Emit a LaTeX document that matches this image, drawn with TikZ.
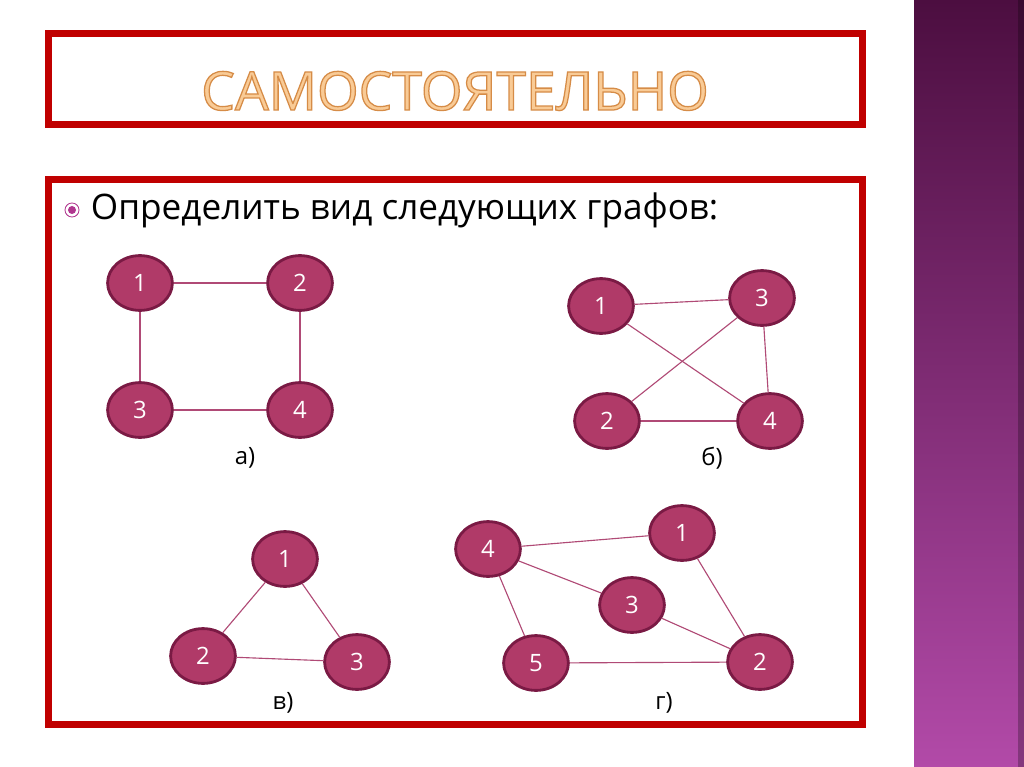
\documentclass[tikz,border=0pt]{standalone}
\usepackage{fontspec}
\setmainfont{Open Sans}
\usepackage{tikz}
\usetikzlibrary{positioning,shapes}
\usepackage{xcolor}
\definecolor{framered}{HTML}{C00000}
\definecolor{vfill}{HTML}{B03A68}
\definecolor{vline}{HTML}{7A1A44}
\definecolor{eline}{HTML}{B04A76}
\definecolor{stripetop}{HTML}{4C0E40}
\definecolor{stripebot}{HTML}{B24AA8}
\definecolor{titlefill}{HTML}{F9CB96}
\definecolor{bulletc}{HTML}{B0368E}
\newcommand{\outlined}[1]{\special{pdf:literal direct 2 Tr 0.9 w 0.84 0.55 0.28 RG}#1\special{pdf:literal direct 0 Tr}}
\tikzset{
	vert/.style={ellipse, draw=vline, fill=vfill, line width=2pt, minimum width=1.62cm, minimum height=1.37cm, inner sep=0pt, text=white, font=\fontsize{17}{20}\selectfont},
	edge/.style={draw=eline, line width=0.8pt},
	gcaption/.style={font=\fontsize{17}{20}\selectfont},
	redframe/.style={draw=framered, line width=5pt}
}
\begin{document}
\begin{tikzpicture}[x=0.025cm, y=-0.025cm]
		\useasboundingbox (0,0) rectangle (1024,767);
		\fill[white] (0,0) rectangle (1024,767);
		% purple stripe on the right
		\shade[top color=stripetop, bottom color=stripebot] (914,0) rectangle (1024,767);
		\fill[black, opacity=0.25] (1018,0) rectangle (1024,767);
		% frames
		\draw[redframe] (48.5,33.5) rectangle (862.5,124.5);
		\draw[redframe] (48.5,179.5) rectangle (862.5,724.5);
		\node[text=titlefill, font=\fontsize{38}{44}\selectfont] (Title) at (455,91) {\outlined{САМОСТОЯТЕЛЬНО}};
		% bullet
		\draw[bulletc, line width=0.6pt] (72,210) circle (7);
		\fill[bulletc] (72,210) circle (4);
		\node[anchor=west, font=\fontsize{25}{30}\selectfont] (Task) at (86,210) {Определить вид следующих графов:};
		% graph a
		\node[vert] (A1) at (140,283) {1};
		\node[vert] (A2) at (300,283) {2};
		\node[vert] (A3) at (140,410) {3};
		\node[vert] (A4) at (300,410) {4};
		\node[gcaption] (La) at (245,458) {а)};
		% graph b
		\node[vert] (B1) at (601,306) {1};
		\node[vert] (B3) at (762,298) {3};
		\node[vert] (B2) at (607,421) {2};
		\node[vert] (B4) at (770,421) {4};
		\node[gcaption] (Lb) at (712,458) {б)};
		% graph v
		\node[vert] (V1) at (285,559) {1};
		\node[vert] (V2) at (203,656) {2};
		\node[vert] (V3) at (357,662) {3};
		\node[gcaption] (Lv) at (283,703) {в)};
		% graph g
		\node[vert] (G4) at (488,549) {4};
		\node[vert] (G1) at (682,533) {1};
		\node[vert] (G3) at (632,605) {3};
		\node[vert] (G5) at (536,663) {5};
		\node[vert] (G2) at (760,662) {2};
		\node[gcaption] (Lg) at (664,703) {г)};
		\foreach \a/\b in {A1/A2,A1/A3,A2/A4,A3/A4,B1/B3,B1/B4,B2/B3,B2/B4,B3/B4,V1/V2,V1/V3,V2/V3,G4/G1,G4/G3,G4/G5,G5/G2,G3/G2,G1/G2}{
			\draw[edge] (\a) -- (\b);
		}
		\end{tikzpicture}
\end{document}
